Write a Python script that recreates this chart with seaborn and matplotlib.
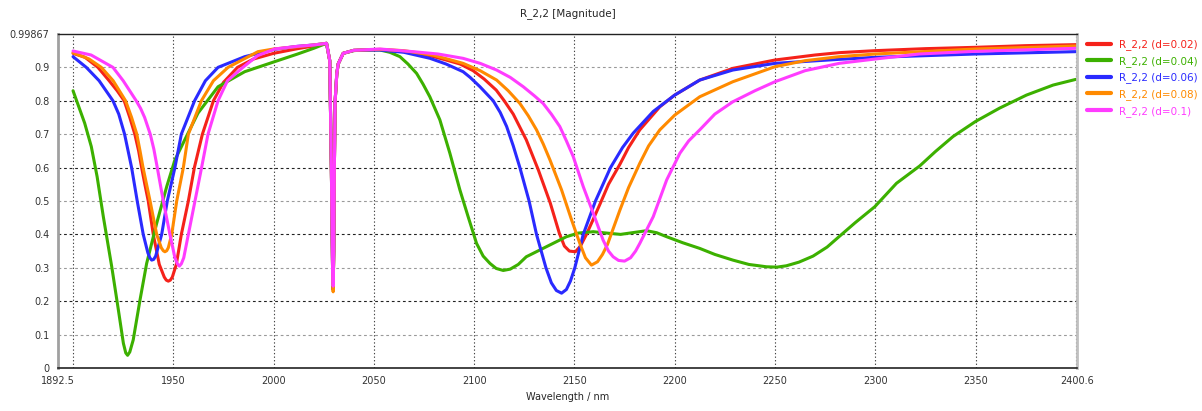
import numpy as np
import pandas as pd
import matplotlib
matplotlib.use("Agg")
import matplotlib.pyplot as plt
import seaborn as sns

# ---- data ----
labels = ["R_2,2 (d=0.02)", "R_2,2 (d=0.04)", "R_2,2 (d=0.06)", "R_2,2 (d=0.08)", "R_2,2 (d=0.1)"]
colors = ["#f5221a", "#3cb000", "#2a2aff", "#ff8a00", "#ff3cff"]

# narrow resonance near 2030 nm, shared by all curves
dip_wl = [2028.0, 2028.8, 2029.4, 2029.7, 2030.0, 2030.3, 2030.7, 2031.5, 2032.2, 2034.7, 2040]

wl_02 = [1900, 1906, 1912.4, 1918, 1922, 1925.5, 1928.3, 1930.8, 1932.7, 1934.2, 1935.8, 1937.5,
         1940, 1943, 1945.5, 1946.5, 1947.5, 1948.5, 1949.5, 1951.5, 1954, 1957.5, 1960.5, 1964.5,
         1970, 1975, 1982, 1990, 2000, 2012, 2020, 2026.4] + dip_wl + [
         2053, 2062, 2070, 2078, 2086, 2093, 2099.5, 2105, 2111, 2115, 2119.5, 2126, 2132,
         2138, 2142.5, 2145, 2147.5, 2150.5, 2153, 2156, 2159, 2162.7, 2167, 2172.7, 2177,
         2182.6, 2192.6, 2200, 2212.5, 2229, 2250, 2270, 2282, 2300, 2325, 2350, 2375, 2400]
mag_02 = [0.942, 0.930, 0.90, 0.86, 0.83, 0.80, 0.75, 0.70, 0.65, 0.60, 0.55, 0.50,
          0.40, 0.31, 0.272, 0.263, 0.260, 0.263, 0.272, 0.31, 0.40, 0.50, 0.60, 0.70,
          0.80, 0.855, 0.90, 0.925, 0.942, 0.956, 0.964, 0.972,
          0.92, 0.60, 0.30, 0.235, 0.35, 0.60, 0.80, 0.88, 0.91, 0.942, 0.951,
          0.953, 0.950, 0.943, 0.935, 0.922, 0.910, 0.890, 0.865, 0.832, 0.80, 0.76, 0.683, 0.593,
          0.493, 0.403, 0.365, 0.350, 0.348, 0.365, 0.40, 0.44, 0.49, 0.55, 0.61, 0.66,
          0.713, 0.782, 0.817, 0.862, 0.897, 0.922, 0.937, 0.944, 0.950, 0.956, 0.960, 0.965, 0.968]

wl_04 = [1900, 1905.8, 1909.1, 1912, 1915.1, 1919.3, 1922.6, 1925.1, 1926.3, 1927.2, 1928.3,
         1930, 1933.4, 1936.7, 1941.7, 1946.7, 1950.8, 1955.7, 1962.3, 1972.3, 1985.6, 2000.5,
         2012, 2020, 2026.4] + dip_wl + [
         2046, 2053, 2058, 2063, 2067, 2071.3, 2074.5, 2077.9, 2082.9, 2087.9, 2092.9, 2097,
         2101.2, 2104.5, 2107.9, 2111, 2114.5, 2118, 2122, 2126, 2131, 2136, 2141, 2146, 2152,
         2159.4, 2166, 2173, 2180, 2186, 2191, 2196, 2204, 2212.5, 2220, 2229, 2237, 2245.8,
         2251, 2255.7, 2262, 2269, 2276, 2282.3, 2290, 2299.8, 2310.6, 2322.2, 2330, 2338.8,
         2350, 2362, 2375.4, 2388.7, 2400]
mag_04 = [0.830, 0.733, 0.663, 0.573, 0.453, 0.303, 0.174, 0.074, 0.045, 0.038, 0.048,
          0.084, 0.204, 0.313, 0.433, 0.543, 0.623, 0.683, 0.763, 0.842, 0.887, 0.917,
          0.940, 0.957, 0.972,
          0.92, 0.60, 0.30, 0.235, 0.35, 0.60, 0.80, 0.88, 0.91, 0.942, 0.950,
          0.953, 0.952, 0.945, 0.932, 0.910, 0.882, 0.850, 0.812, 0.743, 0.643, 0.533, 0.453,
          0.373, 0.335, 0.313, 0.298, 0.292, 0.296, 0.310, 0.333, 0.348, 0.363, 0.378, 0.393, 0.404,
          0.408, 0.404, 0.400, 0.406, 0.411, 0.405, 0.393, 0.375, 0.358, 0.340, 0.323, 0.310, 0.303,
          0.302, 0.306, 0.317, 0.335, 0.362, 0.395, 0.435, 0.483, 0.553, 0.605, 0.648, 0.693,
          0.738, 0.778, 0.817, 0.847, 0.864]

wl_06 = [1900, 1906.6, 1913, 1919.9, 1922.8, 1925.7, 1929.2, 1932, 1935, 1937.3, 1938.3, 1939.2,
         1940.2, 1941.2, 1944.2, 1947, 1950.8, 1954, 1960.6, 1966, 1972.3, 1985.6, 2000.5, 2012,
         2020, 2026.4] + dip_wl + [
         2053, 2065, 2078, 2086, 2094.5, 2098, 2102.9, 2109.5, 2113, 2116.2, 2119.5, 2122.8,
         2127.4, 2131.1, 2135.8, 2138.5, 2141, 2143.6, 2146, 2148, 2150.2, 2154.4, 2160.5, 2168,
         2174, 2179.3, 2189.3, 2200, 2212.5, 2229, 2250, 2282, 2300, 2350, 2400]
mag_06 = [0.932, 0.90, 0.86, 0.80, 0.76, 0.70, 0.60, 0.50, 0.40, 0.345, 0.330, 0.323,
          0.325, 0.335, 0.40, 0.50, 0.60, 0.70, 0.80, 0.86, 0.90, 0.932, 0.954, 0.963,
          0.967, 0.972,
          0.92, 0.60, 0.30, 0.235, 0.35, 0.60, 0.80, 0.88, 0.91, 0.942, 0.951,
          0.952, 0.945, 0.927, 0.910, 0.887, 0.870, 0.842, 0.800, 0.765, 0.723, 0.665, 0.60,
          0.50, 0.40, 0.30, 0.255, 0.232, 0.224, 0.235, 0.26, 0.30, 0.40, 0.50, 0.60,
          0.66, 0.703, 0.768, 0.817, 0.862, 0.892, 0.912, 0.924, 0.930, 0.940, 0.947]

wl_08 = [1900, 1908, 1914.1, 1920, 1926.2, 1929.2, 1931.8, 1933.4, 1934.9, 1938.4, 1941.7, 1944,
         1945, 1945.8, 1946.7, 1947.5, 1949.2, 1951.7, 1955, 1957.5, 1964, 1970, 1977.3, 1992.2,
         2000, 2012, 2020, 2026.4] + dip_wl + [
         2053, 2065, 2080, 2094.5, 2103, 2111.2, 2117, 2122.8, 2127, 2131.1, 2134.5, 2137.8,
         2143.6, 2148.6, 2152.7, 2155.5, 2158.5, 2161.5, 2164, 2166.5, 2169.5, 2172.7, 2177,
         2182.6, 2187, 2192.6, 2200, 2212.5, 2229, 2250, 2265, 2282, 2300, 2350, 2400]
mag_08 = [0.944, 0.925, 0.90, 0.86, 0.80, 0.75, 0.70, 0.65, 0.60, 0.50, 0.40, 0.36,
          0.351, 0.348, 0.351, 0.36, 0.40, 0.50, 0.60, 0.70, 0.80, 0.86, 0.90, 0.947,
          0.955, 0.962, 0.967, 0.972,
          0.92, 0.60, 0.30, 0.228, 0.35, 0.60, 0.80, 0.88, 0.91, 0.942, 0.951,
          0.954, 0.950, 0.936, 0.912, 0.890, 0.862, 0.830, 0.792, 0.755, 0.713, 0.670, 0.623,
          0.533, 0.443, 0.373, 0.330, 0.308, 0.318, 0.340, 0.370, 0.420, 0.473, 0.540,
          0.613, 0.665, 0.713, 0.757, 0.812, 0.857, 0.902, 0.920, 0.932, 0.940, 0.955, 0.964]

wl_10 = [1900, 1909, 1919.9, 1925, 1931.5, 1933.7, 1935.7, 1938.5, 1940.3, 1942, 1945, 1948.3,
         1950.8, 1952, 1953, 1954, 1955.2, 1957.5, 1960.8, 1964.1, 1967.3, 1972.3, 1977, 1984.7,
         1992, 2000.5, 2012, 2020, 2026.4] + dip_wl + [
         2053, 2069.6, 2082, 2094.5, 2103, 2111.2, 2118, 2124.5, 2130, 2134.4, 2138.5, 2142.7,
         2146, 2149.4, 2154.4, 2159.4, 2164.3, 2167, 2169.3, 2172, 2175, 2178, 2180.5, 2182.6,
         2189.3, 2196, 2202.6, 2207, 2212.5, 2220, 2229, 2240, 2250, 2265, 2282, 2300, 2322,
         2350, 2400]
mag_10 = [0.949, 0.937, 0.90, 0.86, 0.80, 0.777, 0.75, 0.70, 0.655, 0.60, 0.50, 0.40,
          0.33, 0.312, 0.305, 0.312, 0.33, 0.40, 0.50, 0.60, 0.70, 0.80, 0.86, 0.90,
          0.935, 0.955, 0.963, 0.967, 0.972,
          0.92, 0.60, 0.30, 0.245, 0.35, 0.60, 0.80, 0.88, 0.91, 0.942, 0.951,
          0.955, 0.947, 0.940, 0.927, 0.912, 0.892, 0.870, 0.842, 0.815, 0.792, 0.760, 0.723,
          0.680, 0.633, 0.543, 0.463, 0.383, 0.350, 0.333, 0.322, 0.320, 0.330, 0.350, 0.373,
          0.453, 0.563, 0.643, 0.680, 0.713, 0.760, 0.797, 0.830, 0.857, 0.890, 0.912, 0.925, 0.940,
          0.948, 0.957]

x_ticks = [1892.5, 1950, 2000, 2050, 2100, 2150, 2200, 2250, 2300, 2350, 2400.6]
x_grid = [1900, 1950, 2000, 2050, 2100, 2150, 2200, 2250, 2300, 2350, 2400]
y_ticks = [0, 0.1, 0.2, 0.3, 0.4, 0.5, 0.6, 0.7, 0.8, 0.9, 0.99867]
y_tick_labels = ["0", "0.1", "0.2", "0.3", "0.4", "0.5", "0.6", "0.7", "0.8", "0.9", "0.99867"]

# long table for seaborn
series = [(wl_02, mag_02), (wl_04, mag_04), (wl_06, mag_06), (wl_08, mag_08), (wl_10, mag_10)]
frames = []
for lab, (w, m) in zip(labels, series):
    frames.append(pd.DataFrame({"Wavelength": w, "Magnitude": m, "Series": lab}))
df = pd.concat(frames, ignore_index=True)

sns.set_style("white")
plt.rcParams["font.family"] = ["DejaVu Sans"]
plt.rcParams["font.size"] = 7

fig = plt.figure(figsize=(12.02, 4.11), dpi=100)
ax = fig.add_axes([58 / 1202, 1 - 368 / 411, (1077 - 58) / 1202, (368 - 34.4) / 411])

sns.lineplot(data=df, x="Wavelength", y="Magnitude", hue="Series",
             palette=dict(zip(labels, colors)), sort=False, estimator=None,
             linewidth=2.2, ax=ax)

ax.set_xlim(1892.5, 2400.6)
ax.set_ylim(0, 0.99867)

# grid lines (alternating dark / light like the original)
for i, yv in enumerate(y_ticks[1:-1], start=1):
    col = "#222222" if i % 2 == 0 else "#9a9a9a"
    ax.axhline(yv, color=col, lw=0.8, ls=(0, (2.5, 2.5)), zorder=0)
for xv in x_grid:
    ax.axvline(xv, color="#444444", lw=0.8, ls=(0, (1.2, 2.0)), zorder=0)

ax.set_xticks(x_ticks)
ax.set_xticklabels([str(t) if t % 1 else str(int(t)) for t in x_ticks])
ax.set_yticks(y_ticks)
ax.set_yticklabels(y_tick_labels)
ax.tick_params(axis="both", labelsize=7, length=3, width=0.8, colors="#333333", pad=3)

ax.set_xlabel("Wavelength / nm", fontsize=7, labelpad=4)
ax.set_ylabel("")
ax.set_title("R_2,2 [Magnitude]", fontsize=7.5, pad=13)

for side, col, lw in [("left", "#a0a0a0", 2.0), ("right", "#c0c0c0", 2.0),
                      ("top", "#222222", 1.0), ("bottom", "#222222", 1.2)]:
    ax.spines[side].set_color(col)
    ax.spines[side].set_linewidth(lw)

handles, labs = ax.get_legend_handles_labels()
ax.legend_.remove()
leg = fig.legend(handles, labs, loc="upper left", bbox_to_anchor=(1083 / 1202, 1 - 35 / 411),
                 frameon=False, fontsize=7.5, handlelength=2.3, handletextpad=0.8,
                 labelspacing=0.55, borderaxespad=0)
for txt, line in zip(leg.get_texts(), leg.get_lines()):
    txt.set_color(line.get_color())
    line.set_linewidth(3)

fig.savefig("out.png", dpi=100)
